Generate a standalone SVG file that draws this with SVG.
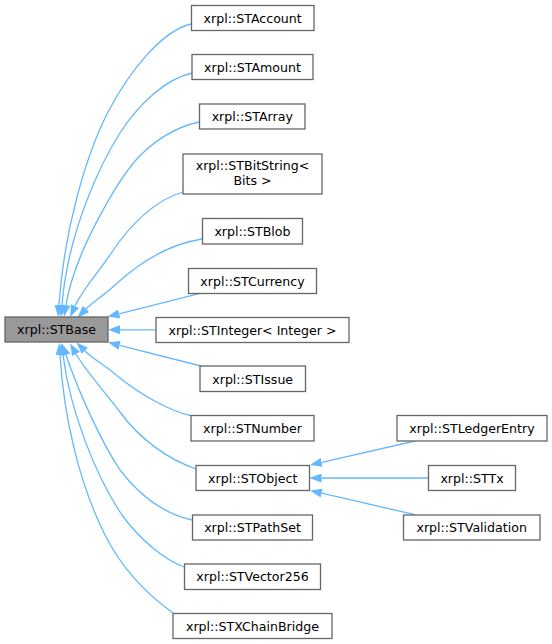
<svg xmlns="http://www.w3.org/2000/svg" width="552" height="644" viewBox="0 0 552 644">
<style>
.n rect{fill:#ffffff;stroke:#666666;stroke-width:1.3}
.n text{font-family:"DejaVu Sans",sans-serif;font-size:12.6px;fill:#000000;text-anchor:middle}
#STBase rect{fill:#999999}
.e path{fill:none;stroke:#63b8ff;stroke-width:1.3;marker-end:url(#ah)}
</style>
<defs>
<marker id="ah" markerUnits="userSpaceOnUse" viewBox="0 0 12 9" refX="0" refY="4.5" markerWidth="12" markerHeight="9" orient="auto">
<path d="M0,0 L12,4.5 L0,9 z" fill="#63b8ff" stroke="none"/>
</marker>
</defs>
<rect width="552" height="644" fill="#ffffff"/>
<g id="connectors" class="e">
<path d="M191,24 C162,31 130,70 108,112 C86,155 64,230 59,305"/>
<path d="M192,73 C165,79 138,105 120,133 C102,161 68,230 62,305"/>
<path d="M199,122 C175,127 152,142 136,160 C120,178 75,250 66,305"/>
<path d="M183,192 C155,200 130,225 112,252 C98,273 82,290 75,306"/>
<path d="M202,239 C170,244 140,262 115,285 C103,296 92,303 86,309"/>
<path d="M200,293.3 L119.1,313.8"/>
<path d="M156,329.8 L120,329.8"/>
<path d="M201,366 L119.6,345.3"/>
<path d="M192,416 C170,411 140,395 115,374 C103,364 93,359 85,351"/>
<path d="M196,469 C170,460 140,440 120,412 C105,392 85,370 76,354"/>
<path d="M192,520 C165,514 140,496 120,470 C100,440 78,390 66,355"/>
<path d="M184,567 C165,560 140,540 122,515 C95,475 70,410 63,355"/>
<path d="M173,613 C155,600 125,575 105,535 C80,485 64,420 60,355"/>
<path d="M415,441 L321.7,462.3"/>
<path d="M428.5,478 L321.5,478"/>
<path d="M415,514.7 L321.7,493.2"/>
</g>
<g id="STBase" class="n"><rect x="5" y="317" width="103" height="25"/><text x="56.5" y="334">xrpl::STBase</text></g>
<g id="STAccount" class="n"><rect x="191.5" y="5.5" width="122.5" height="25"/><text x="252.7" y="22.5">xrpl::STAccount</text></g>
<g id="STAmount" class="n"><rect x="192" y="54.5" width="121" height="25"/><text x="252.5" y="71.5">xrpl::STAmount</text></g>
<g id="STArray" class="n"><rect x="199.5" y="104" width="105.5" height="25"/><text x="252.3" y="121">xrpl::STArray</text></g>
<g id="STBitString" class="n"><rect x="183" y="154" width="139" height="40"/><text x="252.5" y="169.5">xrpl::STBitString&lt;</text><text x="252.5" y="184.5">Bits &gt;</text></g>
<g id="STBlob" class="n"><rect x="202.5" y="218.5" width="100" height="25.5"/><text x="252.5" y="235.5">xrpl::STBlob</text></g>
<g id="STCurrency" class="n"><rect x="188.5" y="268.5" width="128" height="25"/><text x="252.5" y="285.5">xrpl::STCurrency</text></g>
<g id="STInteger" class="n"><rect x="156" y="317.5" width="193" height="25"/><text x="252.5" y="334.5">xrpl::STInteger&lt; Integer &gt;</text></g>
<g id="STIssue" class="n"><rect x="200" y="366" width="105.5" height="25.5"/><text x="252.7" y="383.5">xrpl::STIssue</text></g>
<g id="STNumber" class="n"><rect x="191" y="415.5" width="123" height="25.5"/><text x="252.5" y="432.5">xrpl::STNumber</text></g>
<g id="STObject" class="n"><rect x="196" y="465.5" width="113.5" height="25"/><text x="252.7" y="482.5">xrpl::STObject</text></g>
<g id="STPathSet" class="n"><rect x="192.5" y="515" width="120" height="25"/><text x="252.5" y="531.5">xrpl::STPathSet</text></g>
<g id="STVector256" class="n"><rect x="184.5" y="564" width="136" height="25.5"/><text x="252.5" y="581">xrpl::STVector256</text></g>
<g id="STXChainBridge" class="n"><rect x="173" y="613.5" width="159" height="25"/><text x="252.5" y="630.5">xrpl::STXChainBridge</text></g>
<g id="STLedgerEntry" class="n"><rect x="397" y="415.5" width="150" height="25.5"/><text x="472" y="432.5">xrpl::STLedgerEntry</text></g>
<g id="STTx" class="n"><rect x="428.5" y="465.5" width="87" height="25"/><text x="472" y="482.5">xrpl::STTx</text></g>
<g id="STValidation" class="n"><rect x="403.5" y="515" width="136.5" height="25"/><text x="471.7" y="531.5">xrpl::STValidation</text></g>
</svg>
